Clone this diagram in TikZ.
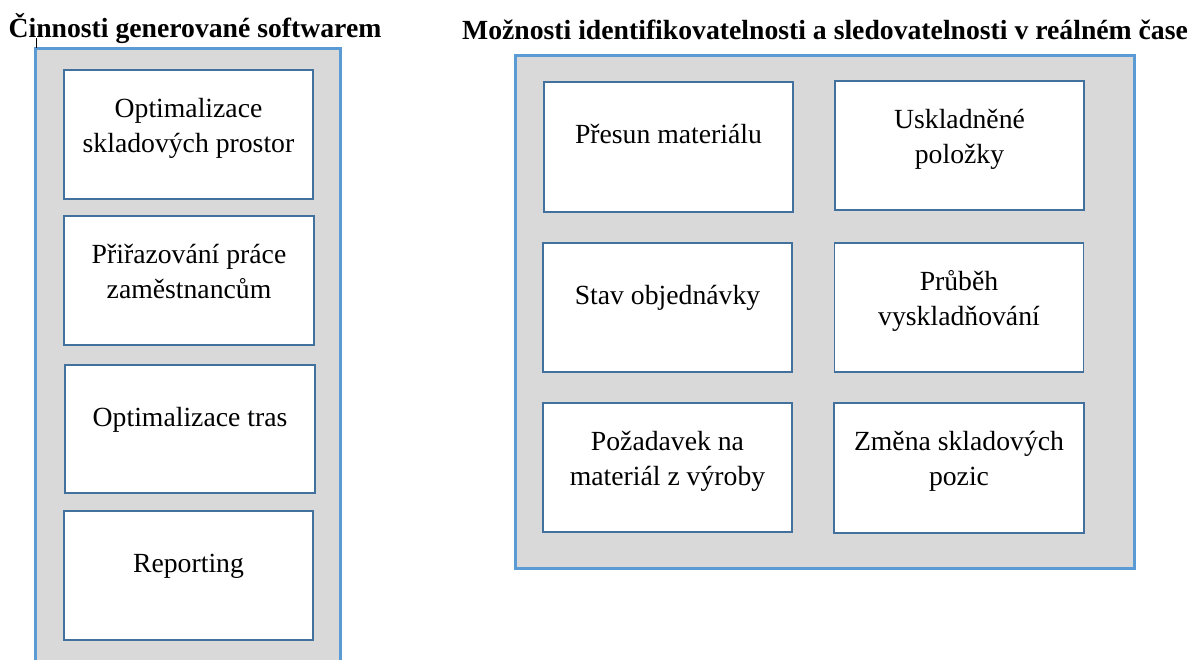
\documentclass[tikz,border=0pt]{standalone}
\usepackage{fontspec}
\setmainfont{Liberation Serif}
\definecolor{panelfill}{HTML}{D9D9D9}
\definecolor{panelline}{HTML}{5B9BD5}
\definecolor{boxline}{HTML}{41719C}
\begin{document}
\begin{tikzpicture}[x=1pt,y=-1pt,
  panel/.style={fill=panelfill,draw=panelline,line width=3pt},
  item/.style={draw=boxline,fill=white,line width=1.6pt,inner sep=0pt},
  lbl/.style={anchor=base,inner sep=0pt,font=\fontsize{27.7}{35.5}\selectfont},
  heading/.style={anchor=base,inner sep=0pt,font=\fontsize{27.7}{33.5}\selectfont\bfseries}]
\useasboundingbox (0,0) rectangle (1197,659);

% left panel, running off the bottom of the page
\fill[panelfill] (35,48) rectangle (340,670);
\draw[panelline,line width=3pt] (35,670) -- (35,48) -- (340,48) -- (340,670);
\draw[black,line width=1pt] (36,38) -- (36,48);
\node[heading] (tl) at (195,37) {Činnosti generované softwarem};

% right panel
\draw[panel] (515,55) rectangle (1134,568);
\node[heading] (tr) at (825,39) {Možnosti identifikovatelnosti a sledovatelnosti v reálném čase};

% left column of boxes
\node[item,minimum width=249pt,minimum height=129pt] (b1) at (188.5,134.5) {};
\node[item,minimum width=250pt,minimum height=129pt] (b2) at (189,280.5) {};
\node[item,minimum width=250pt,minimum height=128pt] (b3) at (190,429) {};
\node[item,minimum width=249pt,minimum height=129pt] (b4) at (188.5,575.5) {};

\node[lbl] (tb1) at ([yshift=-48pt]b1.north) {\begin{tabular}[t]{@{}c@{}}Optimalizace\\skladových prostor\end{tabular}};
\node[lbl] (tb2) at ([yshift=-48pt]b2.north) {\begin{tabular}[t]{@{}c@{}}Přiřazování práce\\zaměstnancům\end{tabular}};
\node[lbl] (tb3) at ([yshift=-62.5pt]b3.north) {Optimalizace tras};
\node[lbl] (tb4) at ([yshift=-62.5pt]b4.north) {Reporting};

% right grid of boxes
\node[item,minimum width=249pt,minimum height=130pt] (r1) at (668.5,147) {};
\node[item,minimum width=249pt,minimum height=129pt] (r2) at (959.5,145.5) {};
\node[item,minimum width=249pt,minimum height=129pt] (r3) at (667.5,307.5) {};
\node[item,minimum width=249pt,minimum height=129pt] (r4) at (959,307.5) {};
\node[item,minimum width=249pt,minimum height=129pt] (r5) at (667.5,467.5) {};
\node[item,minimum width=250pt,minimum height=130pt] (r6) at (959,468) {};

\node[lbl] (tr1) at ([yshift=-62.5pt]r1.north) {Přesun materiálu};
\node[lbl] (tr2) at ([yshift=-48pt]r2.north) {\begin{tabular}[t]{@{}c@{}}Uskladněné\\položky\end{tabular}};
\node[lbl] (tr3) at ([yshift=-62.5pt]r3.north) {Stav objednávky};
\node[lbl] (tr4) at ([yshift=-48pt]r4.north) {\begin{tabular}[t]{@{}c@{}}Průběh\\vyskladňování\end{tabular}};
\node[lbl] (tr5) at ([yshift=-48pt]r5.north) {\begin{tabular}[t]{@{}c@{}}Požadavek na\\materiál z výroby\end{tabular}};
\node[lbl] (tr6) at ([yshift=-48pt]r6.north) {\begin{tabular}[t]{@{}c@{}}Změna skladových\\pozic\end{tabular}};
\end{tikzpicture}
\end{document}
